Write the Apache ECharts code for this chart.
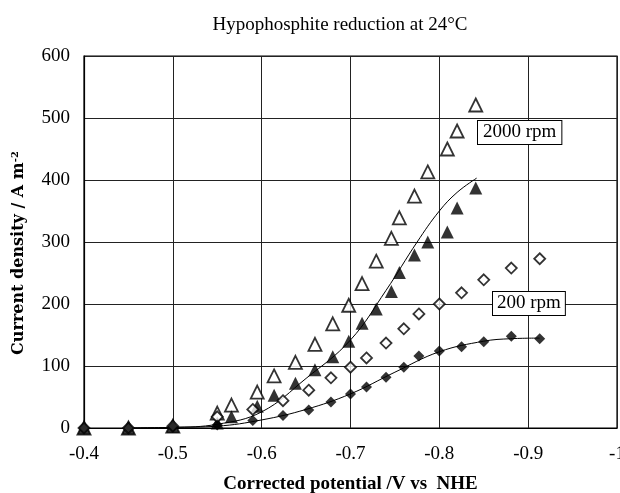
<!DOCTYPE html>
<html><head><meta charset="utf-8">
<script src="https://cdn.jsdelivr.net/npm/echarts@6/dist/echarts.min.js"></script>
<style>html,body{margin:0;padding:0;background:#fff}#c{width:620px;height:493px}</style>
</head><body><div id="c"></div>
<script>
// 2000 rpm data (triangles)
const potential2000 = [-0.4,-0.45,-0.5,-0.55,-0.566,-0.595,-0.614,-0.638,-0.66,-0.68,-0.698,-0.713,-0.729,-0.746,-0.755,-0.772,-0.787,-0.809,-0.82,-0.841];
const open2000   = [0,0,3,24,37,58,84,106,135,168,198,233,269,306,339,374,413,450,479,521];
const filled2000 = [0,0,3,8,18,35,53,72,94,115,140,169,192,220,251,279,300,316,355,387];
// 200 rpm data (diamonds)
const potential200 = [-0.4,-0.45,-0.5,-0.55,-0.59,-0.624,-0.653,-0.678,-0.7,-0.718,-0.74,-0.76,-0.777,-0.8,-0.825,-0.85,-0.881,-0.913];
const open200   = [0,0,3,18,30,44,61,81,98,113,137,160,184,200,218,239,258,273];
const filled200 = [0,0,2,5,12,20,29,42,55,66,82,98,116,124,131,139,148,144];
// fitted curves
const curve2000X = [-0.45,-0.5,-0.55,-0.6,-0.65,-0.7,-0.74,-0.775,-0.8,-0.82,-0.842];
const curve2000Y = [0,1,6,26,80,142,222,300,350,380,403];
const curve200X = [-0.45,-0.5,-0.55,-0.6,-0.65,-0.7,-0.75,-0.8,-0.85,-0.88,-0.913];
const curve200Y = [0,1,3,13,30,55,90,123,140,144,145];
const xTicks = {min:-1, max:-0.4, interval:0.1};
const yTicks = {min:0, max:600, interval:100};

const zip = (xs, ys) => xs.map((x,i)=>[x, ys[i]]);
const serif = '"Liberation Serif","Times New Roman",serif';
const wide = '"DejaVu Serif",serif';
const chart = echarts.init(document.getElementById('c'), null, {renderer:'canvas'});
const mk = (sym, filled) => ({
  type:'scatter', symbol:sym, symbolSize: sym==='triangle'?13:11,
  itemStyle:{color: filled?'#000':'#fff', borderColor:'#000', borderWidth: filled?0:1.8},
  z: 5
});
chart.setOption({
  animation:false,
  backgroundColor:'#fff',
  title:{text:'Hypophosphite reduction at 24°C', left:335, textAlign:'center', top:11,
    textStyle:{fontFamily:serif, fontSize:19, fontWeight:'normal', color:'#000'}},
  grid:{left:84, right:3, top:56, bottom:65, show:true, borderColor:'#000', borderWidth:1.2, outerBoundsMode:'none', containLabel:false},
  xAxis:{type:'value', inverse:true, min:xTicks.min, max:xTicks.max, interval:xTicks.interval,
    name:'Corrected potential /V vs  NHE', nameLocation:'middle', nameGap:47,
    nameTextStyle:{fontFamily:serif, fontSize:19, fontWeight:'bold', color:'#000'},
    axisLine:{show:true, lineStyle:{color:'#000', width:1.2}}, axisTick:{show:false},
    axisLabel:{fontFamily:serif, fontSize:19, color:'#000', margin:17},
    splitLine:{show:true, lineStyle:{color:'#222', width:1}}},
  yAxis:{type:'value', min:yTicks.min, max:yTicks.max, interval:yTicks.interval,
    name:'{a|Current density / A m}{s|-2}', nameLocation:'middle', nameGap:56,
    nameTextStyle:{rich:{a:{fontFamily:wide, fontSize:16, fontWeight:'bold', color:'#000'},
                         s:{fontFamily:wide, fontSize:10, fontWeight:'bold', color:'#000', verticalAlign:'top', padding:[0,0,8,0]}},
                   padding:[0,0,0,-22]},
    axisLine:{show:true, lineStyle:{color:'#000', width:1.2}}, axisTick:{show:false},
    axisLabel:{fontFamily:serif, fontSize:19, color:'#000', margin:14},
    splitLine:{show:true, lineStyle:{color:'#222', width:1}}},
  series:[
    {type:'line', data:zip(curve2000X, curve2000Y), smooth:0.4, showSymbol:false, lineStyle:{color:'#000', width:1}, z:3},
    {type:'line', data:zip(curve200X, curve200Y), smooth:0.4, showSymbol:false, lineStyle:{color:'#000', width:1}, z:3},
    Object.assign(mk('triangle', false), {data:zip(potential2000, open2000)}),
    Object.assign(mk('triangle', true), {data:zip(potential2000, filled2000)}),
    Object.assign(mk('diamond', false), {data:zip(potential200, open200)}),
    Object.assign(mk('diamond', true), {data:zip(potential200, filled200)})
  ],
  graphic:[
    {type:'text', left:477, top:120, z:10, style:{text:'2000 rpm', font:'19px '+serif, fill:'#000',
      backgroundColor:'#fff', borderColor:'#000', borderWidth:1, padding:[2,5,2,5]}},
    {type:'text', left:492, top:291, z:10, style:{text:'200 rpm', font:'19px '+serif, fill:'#000',
      backgroundColor:'#fff', borderColor:'#000', borderWidth:1, padding:[2,4,2,4]}}
  ]
});
</script></body></html>
